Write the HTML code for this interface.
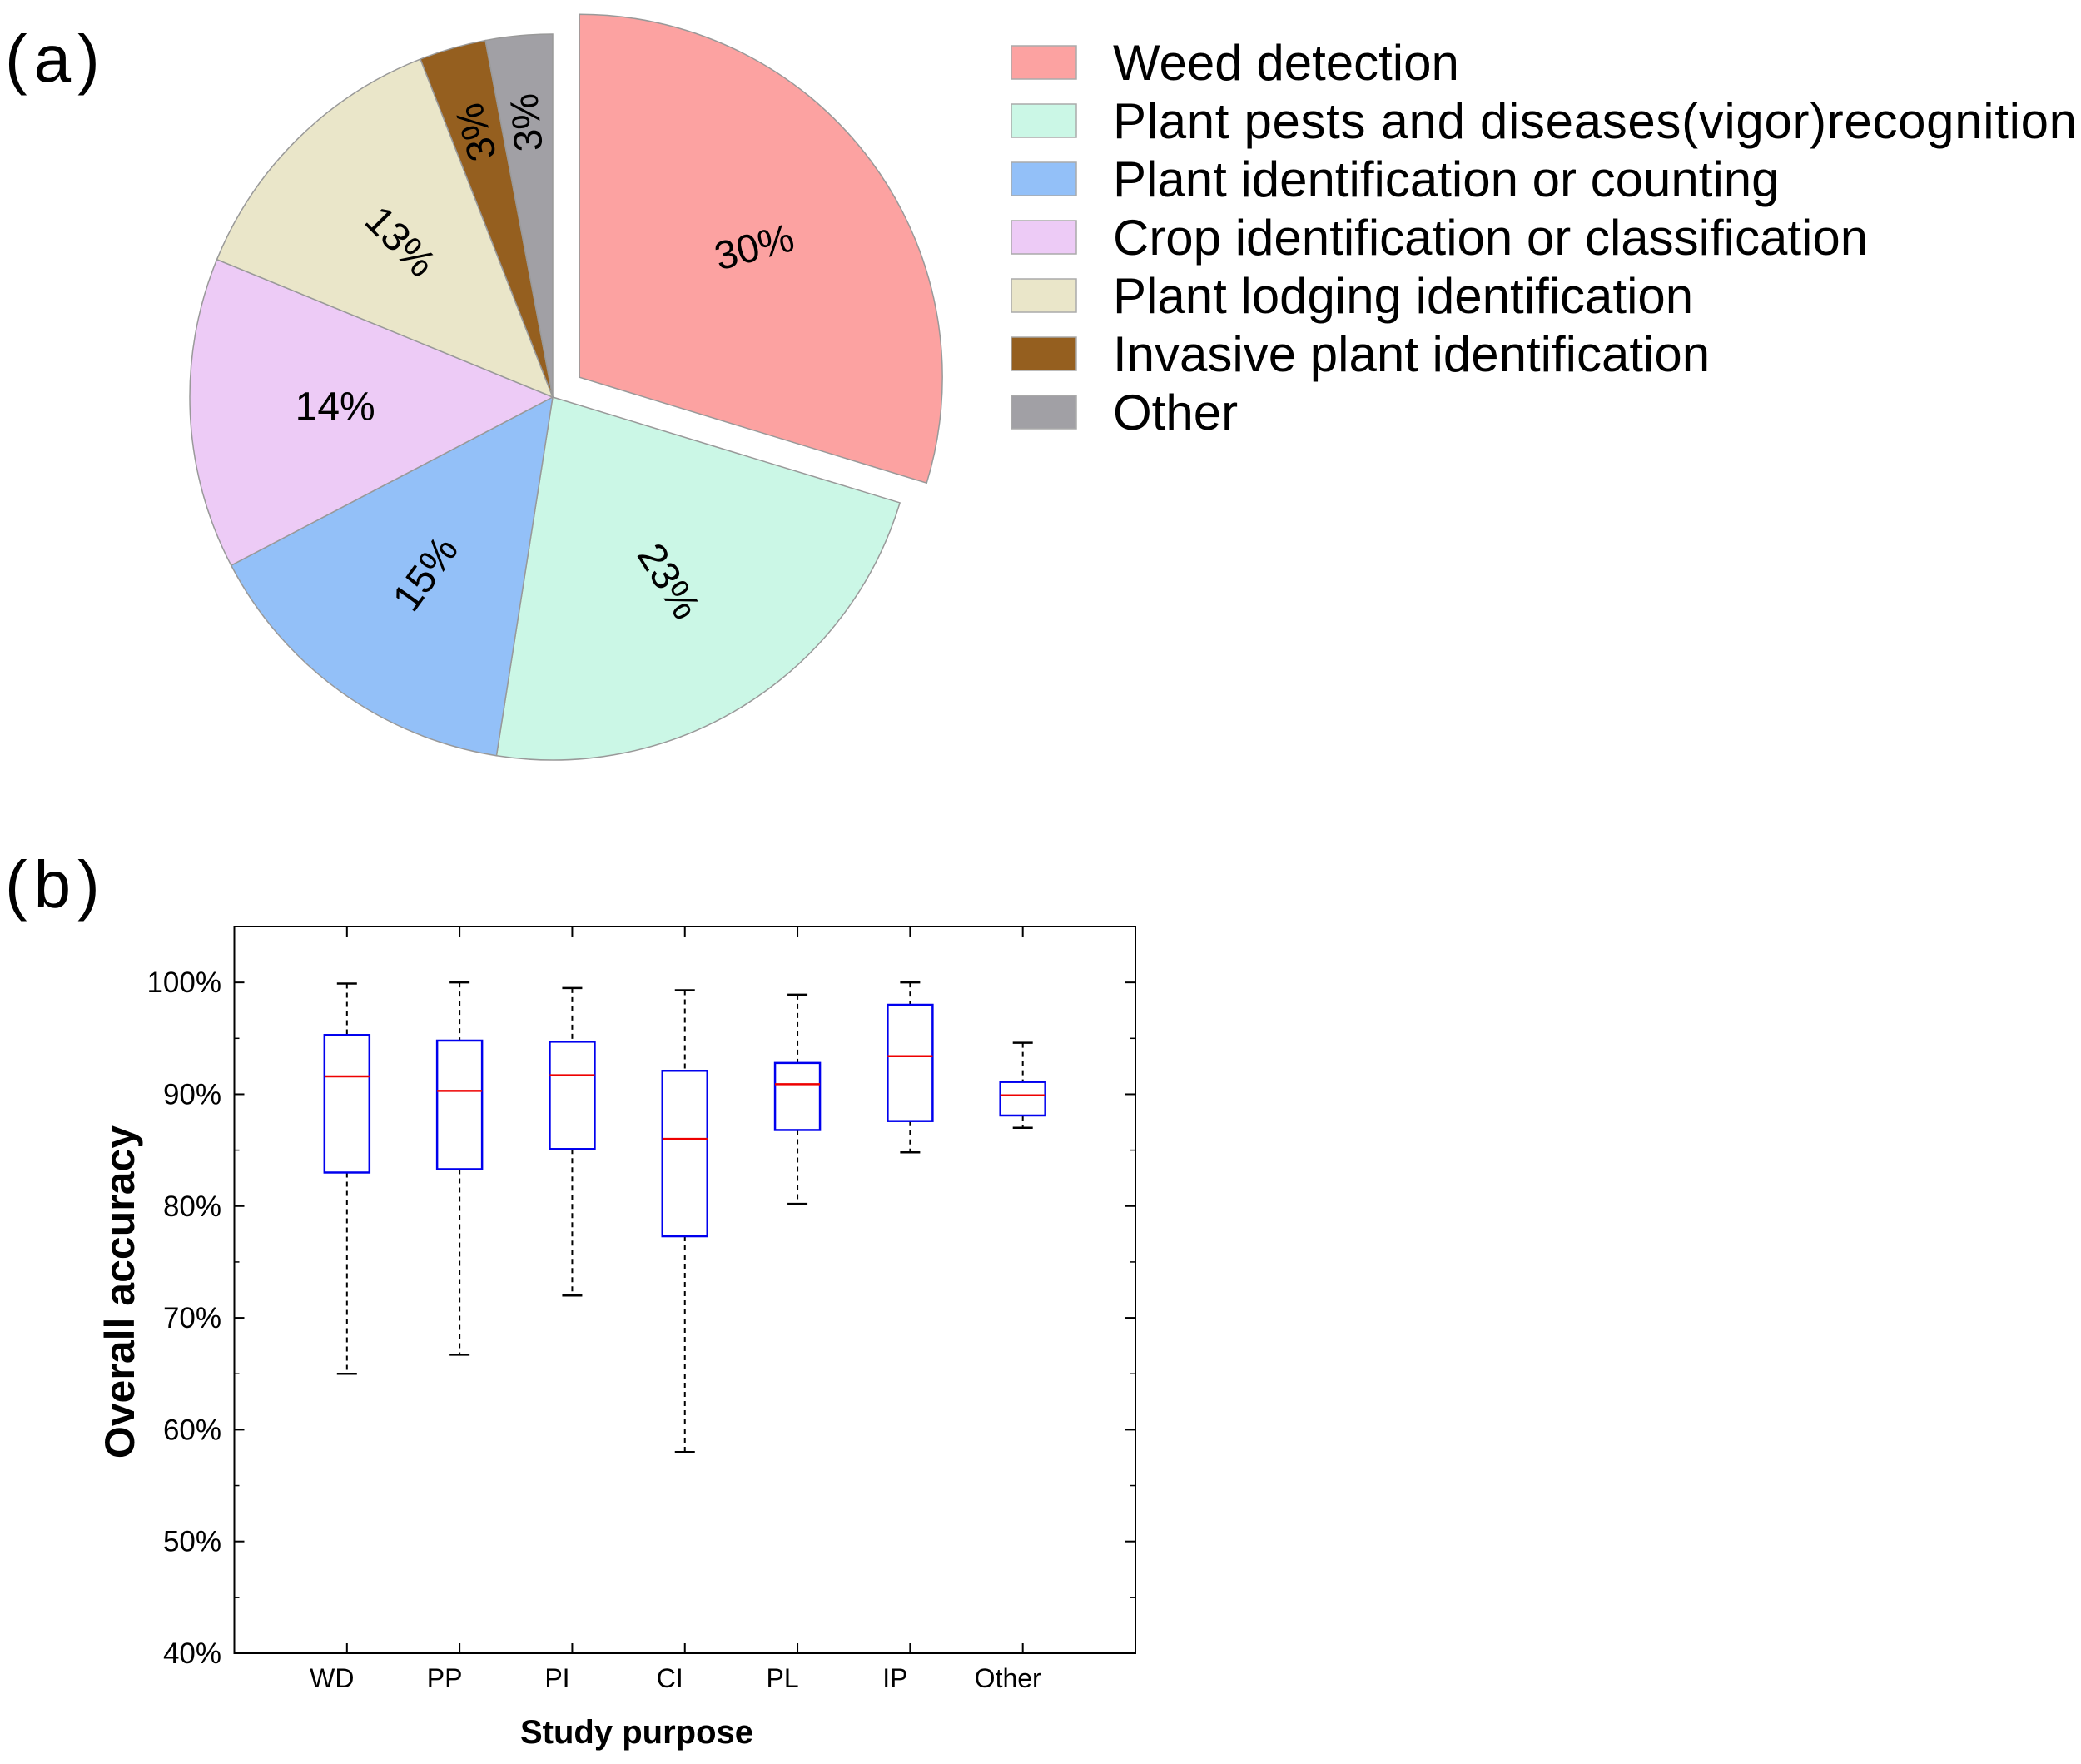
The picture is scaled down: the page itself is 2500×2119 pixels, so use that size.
<!DOCTYPE html>
<html><head><meta charset="utf-8"><style>
html,body{margin:0;padding:0;background:#fff}
svg{display:block;font-family:"Liberation Sans",Arial,sans-serif}
</style></head><body>
<svg id="fig" width="2500" height="2119" viewBox="0 0 2500 2119" xmlns="http://www.w3.org/2000/svg">
<text x="6" y="98" font-size="80" letter-spacing="8">(a)</text>
<g id="pie"></g>
<g id="legend"></g>
<text x="6" y="1090" font-size="80" letter-spacing="8">(b)</text>
<g id="box"></g>
</svg>
<script>
const NS='http://www.w3.org/2000/svg';
const pieLabels=["Weed detection","Plant pests and diseases(vigor)recognition","Plant identification or counting","Crop identification or classification","Plant lodging identification","Invasive plant identification","Other"];
const pieValues=[30,23,15,14,13,3,3];
const pieColors=["#fca2a1","#cbf7e6","#93c0f8","#edcbf6","#eae6c9","#955f1f","#a1a0a5"];
const boxCats=["WD","PP","PI","CI","PL","IP","Other"];
const boxMin=[65,66.7,72,58,80.2,84.8,87];
const boxQ1=[83,83.3,85.1,77.3,86.8,87.6,88.1];
const boxMed=[91.6,90.3,91.7,86,90.9,93.4,89.9];
const boxQ3=[95.3,94.8,94.7,92.1,92.8,98,91.1];
const boxMax=[99.9,100,99.5,99.3,98.9,100,94.6];
const yTicks=[40,50,60,70,80,90,100];

function mk(tag,attrs,parent){const e=document.createElementNS(NS,tag);for(const k in attrs)e.setAttribute(k,attrs[k]);parent.appendChild(e);return e;}

// Pie
const pie=document.getElementById('pie');
const cx=664,cy=477,R=436;
const total=pieValues.reduce((a,b)=>a+b,0);
let a0=0;
pieValues.forEach((v,i)=>{
  const a1=a0+v/total*360;
  const mid=(a0+a1)/2*Math.PI/180;
  const off=i===0?40:0;
  const ox=cx+off*Math.sin(mid),oy=cy-off*Math.cos(mid);
  const p=(a)=>[ox+R*Math.sin(a*Math.PI/180),oy-R*Math.cos(a*Math.PI/180)];
  const s=p(a0),e=p(a1);
  const large=(a1-a0)>180?1:0;
  const path=mk('path',{d:`M${ox},${oy}L${s[0]},${s[1]}A${R},${R} 0 ${large} 1 ${e[0]},${e[1]}Z`,fill:pieColors[i],stroke:'#999','stroke-width':1.5},pie);
  
  
  const lr=i>=5?R*0.76:R*0.6;
  const lx=ox+lr*Math.sin(mid),ly=oy-lr*Math.cos(mid);
  let rot=(a0+a1)/2-90;
  if(rot>90)rot-=180;
  if(rot<-90)rot+=180;
  if(i===3)rot=0;
  if(i===0)rot=-15;
  if(i>=5)rot-=180;
  const t=mk('text',{x:lx,y:ly,'font-size':48,'text-anchor':'middle','dominant-baseline':'central',transform:`rotate(${rot} ${lx} ${ly})`},pie);
  t.textContent=v+'%';
  
  
  a0=a1;
});

// Legend
const leg=document.getElementById('legend');
pieLabels.forEach((l,i)=>{
  const y=75+i*70;
  const r=mk('rect',{x:1215,y:y-20,width:78,height:40,fill:pieColors[i],stroke:'#aaa','stroke-width':1.5},leg);
  
  
  const t=mk('text',{x:1337,y:y+21,'font-size':60},leg);
  t.textContent=l;
  if(i===1)t.setAttribute('textLength','1158');
  
  
});

// Boxplot
const box=document.getElementById('box');
const L=281.5,Rr=1364,T=1113,B=1986;
const yMin=40,yMax=105;
const Y=v=>B-(v-yMin)/(yMax-yMin)*(B-T);
const step=(Rr-L)/(boxCats.length+1);
const X=i=>L+(i+1)*step;
const fr=mk('rect',{x:L,y:T,width:Rr-L,height:B-T,fill:'none',stroke:'#000','stroke-width':2},box);

for(let v=45;v<=100;v+=10){
  mk('line',{x1:L,x2:L+6,y1:Y(v),y2:Y(v),stroke:'#000','stroke-width':1.5},box);
  mk('line',{x1:Rr,x2:Rr-6,y1:Y(v),y2:Y(v),stroke:'#000','stroke-width':1.5},box);
}
yTicks.forEach(v=>{
  mk('line',{x1:L,x2:L+12,y1:Y(v),y2:Y(v),stroke:'#000','stroke-width':2},box);
  mk('line',{x1:Rr,x2:Rr-12,y1:Y(v),y2:Y(v),stroke:'#000','stroke-width':2},box);
  const t=mk('text',{x:266,y:Y(v)+12,'font-size':35,'text-anchor':'end'},box);
  t.textContent=v+'%';
  
  
});
boxCats.forEach((c,i)=>{
  const x=X(i),w=54;
  mk('line',{x1:x,x2:x,y1:B,y2:B-12,stroke:'#000','stroke-width':2},box);
  mk('line',{x1:x,x2:x,y1:T,y2:T+12,stroke:'#000','stroke-width':2},box);
  const g=mk('g',{},box);
  
  
  mk('line',{x1:x,x2:x,y1:Y(boxMax[i]),y2:Y(boxQ3[i]),stroke:'#000','stroke-width':2,'stroke-dasharray':'6,5'},g);
  mk('line',{x1:x,x2:x,y1:Y(boxQ1[i]),y2:Y(boxMin[i]),stroke:'#000','stroke-width':2,'stroke-dasharray':'6,5'},g);
  mk('line',{x1:x-12,x2:x+12,y1:Y(boxMax[i]),y2:Y(boxMax[i]),stroke:'#000','stroke-width':2.5},g);
  mk('line',{x1:x-12,x2:x+12,y1:Y(boxMin[i]),y2:Y(boxMin[i]),stroke:'#000','stroke-width':2.5},g);
  mk('rect',{x:x-w/2,y:Y(boxQ3[i]),width:w,height:Y(boxQ1[i])-Y(boxQ3[i]),fill:'none',stroke:'#0000ee','stroke-width':2.5},g);
  mk('line',{x1:x-w/2,x2:x+w/2,y1:Y(boxMed[i]),y2:Y(boxMed[i]),stroke:'#ee0000','stroke-width':2.5},g);
  const t=mk('text',{x:x-18,y:2027,'font-size':32,'text-anchor':'middle'},box);
  t.textContent=c;
  
  
});
const xt=mk('text',{x:765,y:2094,'font-size':40,'font-weight':'bold','text-anchor':'middle'},box);
xt.textContent='Study purpose';

const yt=mk('text',{x:0,y:0,'font-size':50,'font-weight':'bold','text-anchor':'middle',transform:'translate(161,1552) rotate(-90)'},box);
yt.textContent='Overall accuracy';

</script>
</body></html>
